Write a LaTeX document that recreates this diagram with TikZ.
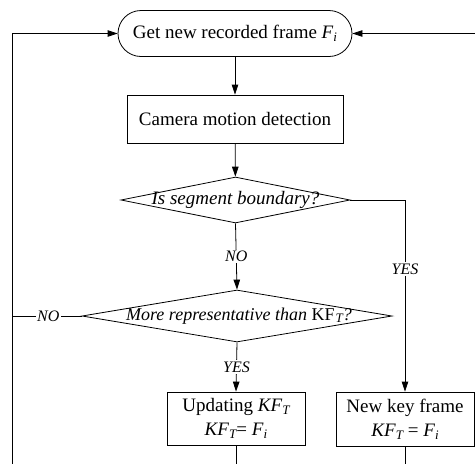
\documentclass[tikz,border=0pt]{standalone}
\usepackage{fontspec}
\setmainfont{Liberation Serif}
\usetikzlibrary{arrows.meta,shapes.geometric}
% small italic index set close to the baseline
\newcommand{\lowsub}[1]{\raisebox{-0.3ex}{\fontsize{13}{13}\selectfont\itshape #1}}
\begin{document}
\begin{tikzpicture}[x=1pt,y=-1pt,
  font=\fontsize{19}{24}\selectfont,
  every path/.style={line width=0.8pt},
  terminal/.style={draw, rounded corners=23pt, minimum width=234pt, minimum height=46pt, inner sep=0pt},
  procbox/.style={draw, align=center, inner sep=0pt},
  decision/.style={draw, diamond, inner sep=0pt},
  question/.style={font=\fontsize{19}{24}\selectfont\itshape, inner sep=0pt},
  tag/.style={fill=white, inner sep=1.5pt, font=\fontsize{16}{16}\selectfont\itshape},
  arrow/.style={-{Triangle[length=10pt,width=6.5pt]}}]
\useasboundingbox (0,0) rectangle (475,464);

% process nodes
\node[terminal] (get) at (235,33.5) {Get new recorded frame \textit{F}\lowsub{i}};
\node[procbox, minimum width=216pt, minimum height=48pt] (cam) at (235,119) {Camera motion detection};
\node[decision, minimum width=229pt, minimum height=46pt] (seg) at (235.5,200) {};
\node[question] (segq) at (seg.center) {Is segment boundary?};
\node[decision, minimum width=310pt, minimum height=52pt] (rep) at (237,316) {};
\node[question, font=\fontsize{18}{22}\selectfont\itshape] (repq) at (239,316)
  {More representative than \textup{KF}\kern1pt\lowsub{T}?};
\node[procbox, minimum width=138pt, minimum height=53pt] (upd) at (236,418.5)
  {Updating \textit{KF}\lowsub{T}\\ \textit{KF}\lowsub{T}= \textit{F}\lowsub{i}};
\node[procbox, minimum width=138pt, minimum height=54pt] (nkf) at (405,419)
  {New key frame\\ \textit{KF}\lowsub{T} = \textit{F}\lowsub{i}};

% loose ends of the loop lines
\coordinate (lb) at (12,464);
\coordinate (rt) at (475,33.5);
\coordinate (bot) at (0,464);

% main flow
\draw[arrow] (get) -- (cam);
\draw[arrow] (cam) -- (seg);
\draw[arrow] (seg.south) -- node[tag]{NO} (rep.north);
\draw[arrow] (seg.east) -| node[tag, pos=0.68]{YES} (nkf.north);
\draw[arrow] (rep.south) -- node[tag]{YES} (upd.north);
\draw (rep.west) -- node[tag, pos=0.48]{NO} (rep.west -| lb);

% feedback lines
\draw[arrow] (lb) |- (get.west);
\draw[arrow] (rt) -- (get.east);
\draw (upd.south) -- (upd.south |- bot);
\draw (nkf.south) -- (nkf.south |- bot);
\end{tikzpicture}
\end{document}
